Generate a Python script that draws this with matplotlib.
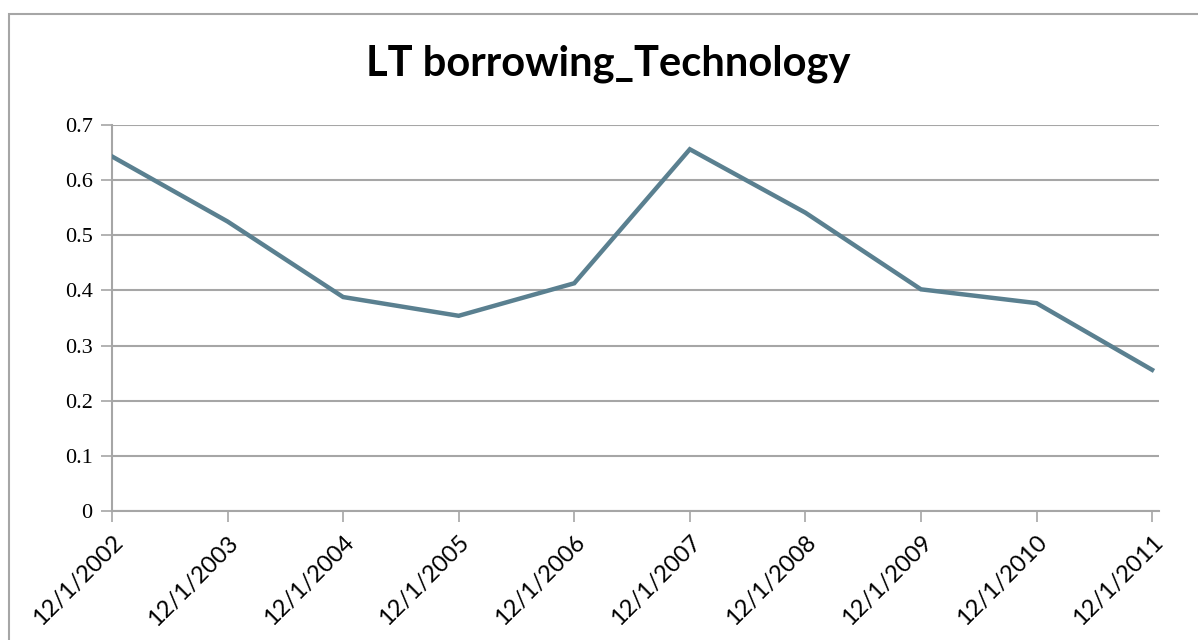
import numpy as np
import matplotlib.pyplot as plt
from matplotlib.patches import Rectangle

# LT borrowing ratio, technology sector, year-end values
dates = ["12/1/2002", "12/1/2003", "12/1/2004", "12/1/2005", "12/1/2006",
         "12/1/2007", "12/1/2008", "12/1/2009", "12/1/2010", "12/1/2011"]
lt_borrowing = [0.643, 0.525, 0.388, 0.354, 0.413,
                0.656, 0.541, 0.402, 0.377, 0.256]
y_ticks = [0, 0.1, 0.2, 0.3, 0.4, 0.5, 0.6, 0.7]
y_labels = ["0", "0.1", "0.2", "0.3", "0.4", "0.5", "0.6", "0.7"]

W, H = 1198, 640
fig = plt.figure(figsize=(W / 100, H / 100), dpi=100)
fig.patch.set_facecolor("white")

# chart frame (runs off the right and bottom edges)
fig.patches.append(Rectangle((9 / W, -0.1), 1.2, 1 - 14 / H + 0.1,
                             transform=fig.transFigure, fill=False,
                             edgecolor="#a6a6a6", linewidth=1.5))

ax = fig.add_axes([112 / W, 1 - 511 / H, (1159 - 112) / W, (511 - 125) / H])

x = np.arange(len(dates))
ax.plot(x, lt_borrowing, color="#5a8090", linewidth=3.2,
        solid_joinstyle="miter", zorder=3)

ax.set_xlim(0, len(dates) - 1 + 0.06)
ax.set_ylim(0, 0.7)

grid_col = "#a6a6a6"
ax.set_yticks(y_ticks)
ax.set_yticklabels(y_labels, family="Liberation Serif", fontsize=16)
ax.yaxis.grid(True, color=grid_col, linewidth=1.5)
ax.set_axisbelow(True)

ax.set_xticks(x)
ax.set_xticklabels(dates, family="Lato", fontsize=17, rotation=45,
                   ha="right", va="top", rotation_mode="anchor")

for side in ["top", "right"]:
    ax.spines[side].set_visible(False)
for side in ["left", "bottom"]:
    ax.spines[side].set_color(grid_col)
    ax.spines[side].set_linewidth(1.5)

ax.tick_params(axis="both", direction="out", length=8, width=1.2,
               color=grid_col, labelcolor="black")
ax.tick_params(axis="y", pad=6)
ax.tick_params(axis="x", pad=7)

fig.text(608 / W, 1 - 64 / H, "LT borrowing_Technology", family="Lato",
         fontweight="bold", fontsize=30, ha="center", va="center")

fig.savefig("out.png", dpi=100)
